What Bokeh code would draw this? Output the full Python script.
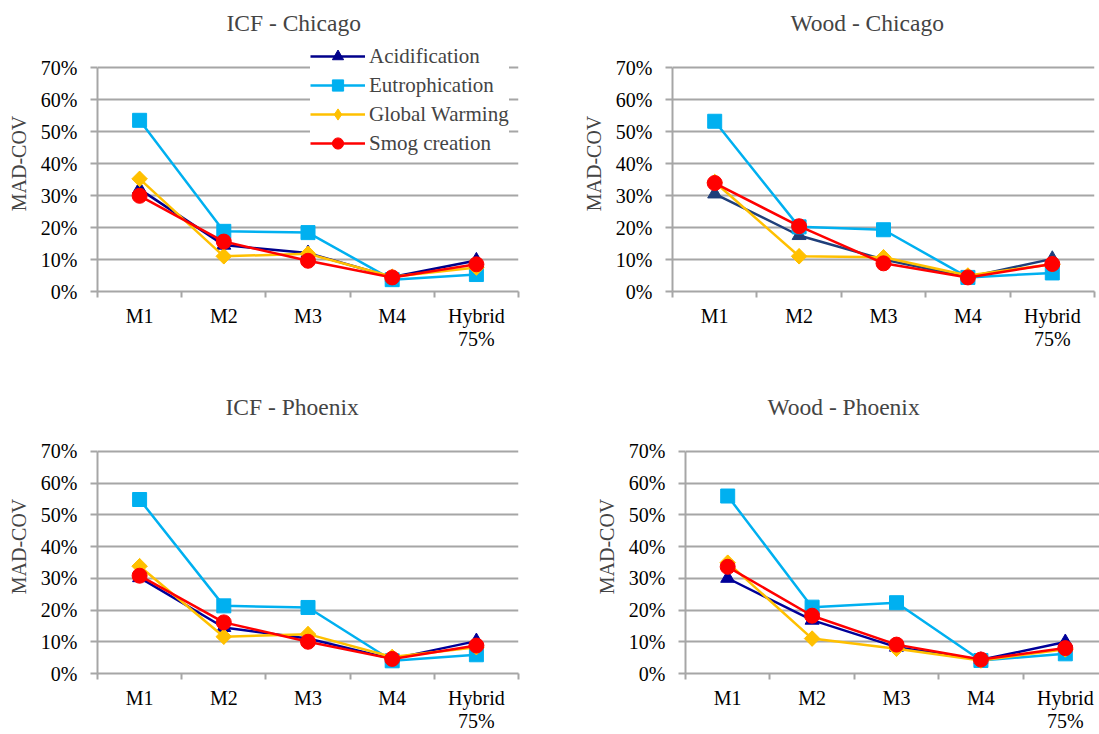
import math
from bokeh.plotting import figure
from bokeh.models import (Range1d, FixedTicker, PrintfTickFormatter, Legend, LegendItem,
                          LinearAxis, Grid)
from bokeh.layouts import column, row
from bokeh.embed import file_html
from bokeh.resources import INLINE

categories = ["M1", "M2", "M3", "M4", "Hybrid\n75%"]
series_names = ["Acidification", "Eutrophication", "Global Warming", "Smog creation"]
y_ticks = [0, 10, 20, 30, 40, 50, 60, 70]

# MAD-COV values (%)
icf_chicago_acid = [32.0, 14.5, 12.0, 4.5, 9.7]
icf_chicago_eutro = [53.5, 18.8, 18.4, 3.7, 5.3]
icf_chicago_gw = [35.2, 11.0, 11.8, 4.6, 7.5]
icf_chicago_smog = [29.9, 15.6, 9.6, 4.4, 8.5]

wood_chicago_acid = [30.5, 17.5, 10.0, 4.5, 10.2]
wood_chicago_eutro = [53.2, 20.2, 19.3, 4.4, 5.8]
wood_chicago_gw = [34.2, 11.0, 10.7, 5.0, 8.5]
wood_chicago_smog = [33.9, 20.4, 8.8, 4.4, 8.6]

icf_phoenix_acid = [30.2, 14.5, 11.0, 4.6, 10.2]
icf_phoenix_eutro = [54.8, 21.3, 20.8, 4.0, 5.9]
icf_phoenix_gw = [33.8, 11.6, 12.4, 5.2, 8.3]
icf_phoenix_smog = [30.8, 16.1, 10.0, 4.6, 8.8]

wood_phoenix_acid = [30.0, 16.8, 8.3, 4.3, 9.9]
wood_phoenix_eutro = [55.9, 20.9, 22.3, 4.1, 6.2]
wood_phoenix_gw = [34.9, 11.0, 7.8, 4.1, 7.6]
wood_phoenix_smog = [33.6, 18.2, 9.1, 4.4, 8.0]

FONT = "Liberation Serif"
GRID = "#A6A6A6"
EUTRO = "#00B0F0"
GW = "#FFC000"
SMOG = "#FF0000"


def make_panel(title, acid, eutro, gw, smog, acid_color, width, height,
               bl, br, bt, bb, x_end, title_offset, legend=False):
    p = figure(width=width, height=height, output_backend="svg", toolbar_location=None,
               x_range=Range1d(0, x_end), y_range=Range1d(0, 80),
               min_border_left=bl, min_border_right=br, min_border_top=bt,
               min_border_bottom=bb, x_axis_type=None, y_axis_type=None,
               title=title)
    p.outline_line_color = None
    p.title.text_font = FONT
    p.title.text_font_size = "23.5px"
    p.title.text_font_style = "normal"
    p.title.align = "left"
    p.title.offset = title_offset
    p.title.standoff = 0

    xs = [i + 0.5 for i in range(len(categories))]

    yaxis = LinearAxis(ticker=FixedTicker(ticks=y_ticks),
                       formatter=PrintfTickFormatter(format="%d%%"),
                       axis_label="MAD-COV", bounds=(0, 70))
    yaxis.axis_line_color = GRID
    yaxis.axis_line_width = 2
    yaxis.major_tick_line_color = GRID
    yaxis.major_tick_line_width = 2
    yaxis.major_tick_out = 7
    yaxis.major_tick_in = 0
    yaxis.minor_tick_line_color = None
    yaxis.major_label_standoff = 13
    yaxis.major_label_text_font = FONT
    yaxis.major_label_text_font_size = "20px"
    yaxis.major_label_text_color = "black"
    yaxis.axis_label_text_font = FONT
    yaxis.axis_label_text_font_size = "20px"
    yaxis.axis_label_text_font_style = "normal"
    yaxis.axis_label_standoff = 8
    p.add_layout(yaxis, "left")

    p.add_layout(Grid(dimension=1, ticker=yaxis.ticker, grid_line_color=GRID,
                      grid_line_width=2))

    xaxis = LinearAxis(ticker=FixedTicker(ticks=xs, minor_ticks=list(range(len(categories) + 1))),
                       major_label_overrides={x: c for x, c in zip(xs, categories)})
    xaxis.axis_line_color = GRID
    xaxis.axis_line_width = 2
    xaxis.major_tick_line_color = None
    xaxis.major_tick_out = 0
    xaxis.major_tick_in = 0
    xaxis.minor_tick_line_color = GRID
    xaxis.minor_tick_line_width = 2
    xaxis.minor_tick_out = 6
    xaxis.minor_tick_in = 0
    xaxis.major_label_standoff = 7
    xaxis.major_label_text_font = FONT
    xaxis.major_label_text_font_size = "20px"
    xaxis.major_label_text_line_height = 1.05
    xaxis.major_label_text_color = "black"
    p.add_layout(xaxis, "below")

    specs = [
        (acid, acid_color, "triangle", 14),
        (eutro, EUTRO, "square", 14),
        (gw, GW, "diamond", 15),
        (smog, SMOG, "circle", 15),
    ]
    items = []
    for name, (vals, col, marker, size) in zip(series_names, specs):
        r1 = p.line(xs, vals, line_color=col, line_width=2.5)
        r2 = p.scatter(xs, vals, marker=marker, size=size,
                       fill_color=col, line_color=col)
        if marker == "diamond":
            # Excel-style diamond: a square turned 45 degrees, drawn over the key marker
            p.scatter(xs, vals, marker="square", size=11, angle=math.pi / 4,
                      fill_color=col, line_color=col)
        items.append(LegendItem(label=name, renderers=[r1, r2]))

    if legend:
        leg = Legend(items=items, location=(213, 134))
        leg.label_text_font = FONT
        leg.label_text_font_size = "21px"
        leg.glyph_width = 55
        leg.glyph_height = 28
        leg.spacing = 1
        leg.padding = 4
        leg.margin = 0
        leg.border_line_color = None
        leg.background_fill_color = "white"
        leg.background_fill_alpha = 1.0
        leg.label_standoff = 4
        p.add_layout(leg)
    return p


p1 = make_panel("ICF - Chicago", icf_chicago_acid, icf_chicago_eutro, icf_chicago_gw,
                icf_chicago_smog, "#00008B", 560, 384, 97, 42, 35, 93, 5, 129, legend=True)
p2 = make_panel("Wood - Chicago", wood_chicago_acid, wood_chicago_eutro, wood_chicago_gw,
                wood_chicago_smog, "#1F3F7A", 539, 384, 112, 5, 35, 93, 5, 118)
p3 = make_panel("ICF - Phoenix", icf_phoenix_acid, icf_phoenix_eutro, icf_phoenix_gw,
                icf_phoenix_smog, "#000099", 560, 350, 97, 42, 35, 59, 5, 128)
p4 = make_panel("Wood - Phoenix", wood_phoenix_acid, wood_phoenix_eutro, wood_phoenix_gw,
                wood_phoenix_smog, "#000099", 539, 350, 125, 0, 35, 59, 4.905, 82)

layout = column(row(p1, p2), row(p3, p4))
open("out.html", "w").write(file_html(layout, INLINE))
